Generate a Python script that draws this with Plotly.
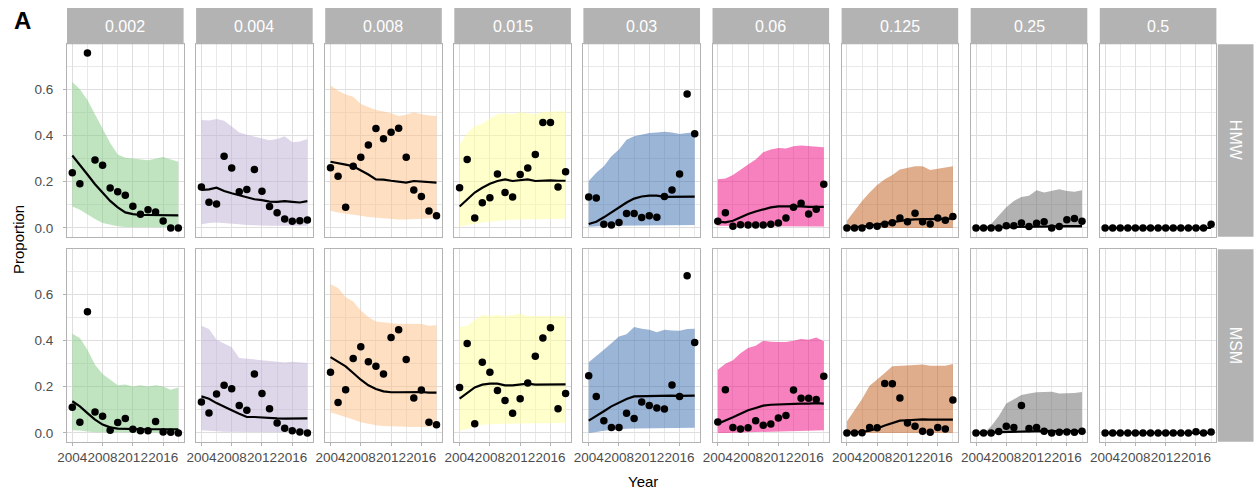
import plotly.graph_objects as go

W, H = 1256, 493

years = list(range(2004, 2019))
mic_levels = ["0.002", "0.004", "0.008", "0.015", "0.03", "0.06", "0.125", "0.25", "0.5"]
groups = ["HMW", "MSM"]
x_tick_labels = ["2004", "2008", "2012", "2016"]
y_tick_labels = ["0.0", "0.2", "0.4", "0.6"]

band_colors = [
    "rgba(127,201,127,0.5)", "rgba(190,174,212,0.5)", "rgba(253,192,134,0.5)",
    "rgba(255,255,153,0.5)", "rgba(56,108,176,0.5)", "rgba(240,2,127,0.5)",
    "rgba(191,91,23,0.5)", "rgba(102,102,102,0.5)", "rgba(102,102,102,0.5)",
]

Z = [0.0] * 15

# ---------------- HMW ----------------
hmw_obs = [
    [0.239, 0.191, 0.756, 0.294, 0.271, 0.173, 0.157, 0.141, 0.094, 0.059, 0.079, 0.069, 0.030, 0.0, 0.0],
    [0.177, 0.111, 0.103, 0.310, 0.259, 0.156, 0.166, 0.253, 0.159, 0.093, 0.066, 0.039, 0.029, 0.031, 0.034],
    [0.260, 0.223, 0.090, 0.267, 0.306, 0.359, 0.430, 0.386, 0.414, 0.431, 0.306, 0.164, 0.136, 0.073, 0.053],
    [0.174, 0.296, 0.043, 0.109, 0.131, 0.233, 0.153, 0.134, 0.231, 0.259, 0.317, 0.456, 0.456, 0.177, 0.243],
    [0.134, 0.129, 0.016, 0.013, 0.024, 0.063, 0.063, 0.045, 0.053, 0.046, 0.136, 0.164, 0.233, 0.579, 0.407],
    [0.029, 0.066, 0.007, 0.014, 0.013, 0.013, 0.013, 0.016, 0.021, 0.043, 0.089, 0.107, 0.060, 0.081, 0.189],
    [0.0, 0.0, 0.0, 0.009, 0.007, 0.016, 0.023, 0.043, 0.027, 0.064, 0.027, 0.017, 0.043, 0.033, 0.050],
    [0.0, 0.0, 0.0, 0.0, 0.010, 0.010, 0.021, 0.006, 0.020, 0.027, 0.0, 0.006, 0.036, 0.041, 0.029],
    [0.0, 0.0, 0.0, 0.0, 0.0, 0.0, 0.0, 0.0, 0.0, 0.0, 0.0, 0.0, 0.0, 0.0, 0.016],
]
hmw_fit = [
    [0.313, 0.274, 0.231, 0.189, 0.153, 0.117, 0.089, 0.067, 0.060, 0.056, 0.056, 0.055, 0.055, 0.054, 0.054],
    [0.164, 0.167, 0.174, 0.160, 0.150, 0.141, 0.131, 0.124, 0.120, 0.114, 0.113, 0.116, 0.113, 0.110, 0.116],
    [0.286, 0.281, 0.274, 0.267, 0.250, 0.231, 0.210, 0.209, 0.204, 0.200, 0.196, 0.203, 0.201, 0.199, 0.196],
    [0.093, 0.124, 0.153, 0.174, 0.191, 0.203, 0.210, 0.203, 0.206, 0.210, 0.203, 0.206, 0.206, 0.204, 0.204],
    [0.017, 0.027, 0.046, 0.067, 0.089, 0.110, 0.127, 0.136, 0.140, 0.140, 0.134, 0.135, 0.134, 0.134, 0.135],
    [0.027, 0.024, 0.031, 0.046, 0.060, 0.071, 0.081, 0.089, 0.093, 0.094, 0.094, 0.093, 0.091, 0.091, 0.091],
    [0.0, 0.002, 0.006, 0.010, 0.015, 0.020, 0.027, 0.032, 0.035, 0.037, 0.037, 0.037, 0.038, 0.038, 0.040],
    [0.0, 0.0, 0.001, 0.002, 0.003, 0.004, 0.005, 0.006, 0.006, 0.007, 0.007, 0.008, 0.008, 0.008, 0.008],
    Z,
]
hmw_lo = [
    [0.093, 0.079, 0.060, 0.039, 0.021, 0.013, 0.007, 0.004, 0.003, 0.003, 0.003, 0.003, 0.003, 0.003, 0.003],
    [0.016, 0.021, 0.024, 0.021, 0.018, 0.016, 0.013, 0.011, 0.010, 0.010, 0.010, 0.009, 0.009, 0.010, 0.010],
    [0.074, 0.067, 0.063, 0.057, 0.053, 0.047, 0.043, 0.040, 0.039, 0.037, 0.037, 0.039, 0.040, 0.041, 0.043],
    [0.006, 0.010, 0.017, 0.024, 0.027, 0.031, 0.034, 0.036, 0.037, 0.039, 0.039, 0.040, 0.040, 0.040, 0.040],
    [0.005, 0.006, 0.008, 0.010, 0.011, 0.012, 0.013, 0.013, 0.013, 0.013, 0.013, 0.013, 0.013, 0.013, 0.013],
    [0.009, 0.009, 0.007, 0.007, 0.006, 0.006, 0.006, 0.006, 0.006, 0.006, 0.006, 0.006, 0.006, 0.006, 0.006],
    Z, Z, Z,
]
hmw_hi = [
    [0.631, 0.599, 0.553, 0.489, 0.424, 0.367, 0.317, 0.303, 0.300, 0.296, 0.293, 0.299, 0.307, 0.296, 0.286],
    [0.467, 0.464, 0.471, 0.463, 0.439, 0.413, 0.403, 0.396, 0.386, 0.379, 0.384, 0.396, 0.370, 0.374, 0.384],
    [0.617, 0.593, 0.577, 0.567, 0.536, 0.524, 0.510, 0.503, 0.496, 0.484, 0.489, 0.500, 0.491, 0.486, 0.484],
    [0.360, 0.410, 0.441, 0.449, 0.474, 0.491, 0.496, 0.491, 0.500, 0.496, 0.491, 0.501, 0.501, 0.504, 0.504],
    [0.203, 0.239, 0.267, 0.310, 0.339, 0.381, 0.396, 0.404, 0.410, 0.413, 0.416, 0.413, 0.406, 0.410, 0.414],
    [0.210, 0.214, 0.229, 0.250, 0.274, 0.296, 0.327, 0.339, 0.346, 0.343, 0.353, 0.356, 0.353, 0.349, 0.349],
    [0.031, 0.074, 0.117, 0.153, 0.186, 0.210, 0.229, 0.253, 0.260, 0.267, 0.267, 0.250, 0.256, 0.260, 0.267],
    [0.0, 0.0, 0.017, 0.053, 0.089, 0.117, 0.134, 0.139, 0.163, 0.153, 0.160, 0.167, 0.160, 0.157, 0.163],
    Z,
]

# ---------------- MSM ----------------
msm_obs = [
    [0.111, 0.046, 0.524, 0.091, 0.072, 0.012, 0.045, 0.062, 0.016, 0.010, 0.010, 0.049, 0.004, 0.003, 0.0],
    [0.134, 0.086, 0.168, 0.206, 0.191, 0.119, 0.098, 0.255, 0.171, 0.105, 0.043, 0.020, 0.010, 0.004, 0.0],
    [0.262, 0.132, 0.187, 0.322, 0.373, 0.308, 0.288, 0.255, 0.413, 0.446, 0.317, 0.151, 0.186, 0.046, 0.036],
    [0.197, 0.387, 0.040, 0.306, 0.262, 0.183, 0.140, 0.085, 0.148, 0.216, 0.331, 0.410, 0.455, 0.105, 0.171],
    [0.247, 0.158, 0.053, 0.024, 0.024, 0.085, 0.062, 0.134, 0.119, 0.108, 0.104, 0.207, 0.158, 0.679, 0.391],
    [0.047, 0.187, 0.024, 0.017, 0.022, 0.053, 0.033, 0.039, 0.065, 0.075, 0.186, 0.150, 0.150, 0.145, 0.245],
    [0.0, 0.0, 0.001, 0.024, 0.022, 0.214, 0.213, 0.151, 0.043, 0.029, 0.007, 0.003, 0.024, 0.017, 0.142],
    [0.0, 0.0, 0.0, 0.006, 0.029, 0.024, 0.119, 0.019, 0.024, 0.007, 0.0, 0.003, 0.004, 0.003, 0.007],
    [0.0, 0.0, 0.0, 0.0, 0.0, 0.0, 0.0, 0.0, 0.0, 0.0, 0.0, 0.0, 0.005, 0.0, 0.004],
]
msm_fit = [
    [0.137, 0.115, 0.086, 0.058, 0.036, 0.024, 0.019, 0.017, 0.017, 0.016, 0.016, 0.016, 0.016, 0.016, 0.016],
    [0.158, 0.148, 0.129, 0.115, 0.098, 0.083, 0.069, 0.069, 0.066, 0.065, 0.063, 0.062, 0.063, 0.065, 0.063],
    [0.328, 0.309, 0.288, 0.259, 0.230, 0.206, 0.190, 0.180, 0.176, 0.176, 0.177, 0.178, 0.177, 0.174, 0.174],
    [0.148, 0.173, 0.197, 0.209, 0.213, 0.213, 0.206, 0.206, 0.209, 0.213, 0.209, 0.209, 0.210, 0.210, 0.210],
    [0.053, 0.072, 0.094, 0.115, 0.130, 0.147, 0.158, 0.159, 0.160, 0.160, 0.161, 0.161, 0.160, 0.161, 0.161],
    [0.040, 0.053, 0.068, 0.083, 0.098, 0.108, 0.118, 0.122, 0.124, 0.125, 0.127, 0.127, 0.127, 0.129, 0.127],
    [0.0, 0.001, 0.004, 0.010, 0.019, 0.032, 0.043, 0.053, 0.055, 0.058, 0.059, 0.058, 0.058, 0.058, 0.058],
    [0.0, 0.001, 0.003, 0.005, 0.006, 0.007, 0.008, 0.009, 0.010, 0.009, 0.008, 0.008, 0.008, 0.008, 0.008],
    Z,
]
msm_lo = [
    [0.012, 0.011, 0.006, 0.003, 0.001, 0.001, 0.001, 0.001, 0.001, 0.001, 0.001, 0.001, 0.001, 0.001, 0.001],
    [0.012, 0.011, 0.007, 0.005, 0.003, 0.003, 0.002, 0.002, 0.002, 0.002, 0.002, 0.002, 0.002, 0.002, 0.002],
    [0.089, 0.079, 0.069, 0.058, 0.046, 0.039, 0.033, 0.030, 0.029, 0.027, 0.027, 0.026, 0.026, 0.026, 0.027],
    [0.010, 0.017, 0.026, 0.035, 0.036, 0.039, 0.040, 0.042, 0.043, 0.043, 0.043, 0.043, 0.043, 0.043, 0.043],
    [0.0, 0.004, 0.010, 0.014, 0.016, 0.018, 0.019, 0.020, 0.021, 0.021, 0.022, 0.022, 0.022, 0.022, 0.022],
    [0.0, 0.0, 0.001, 0.002, 0.003, 0.003, 0.003, 0.003, 0.004, 0.005, 0.006, 0.008, 0.010, 0.011, 0.012],
    Z, Z, Z,
]
msm_hi = [
    [0.429, 0.410, 0.360, 0.295, 0.255, 0.230, 0.206, 0.209, 0.201, 0.206, 0.201, 0.206, 0.201, 0.187, 0.197],
    [0.463, 0.449, 0.403, 0.388, 0.370, 0.324, 0.321, 0.319, 0.314, 0.314, 0.309, 0.305, 0.308, 0.305, 0.302],
    [0.643, 0.626, 0.587, 0.568, 0.529, 0.501, 0.482, 0.478, 0.475, 0.471, 0.472, 0.472, 0.471, 0.463, 0.465],
    [0.458, 0.463, 0.489, 0.511, 0.506, 0.511, 0.506, 0.511, 0.514, 0.504, 0.506, 0.504, 0.506, 0.506, 0.506],
    [0.306, 0.331, 0.360, 0.388, 0.417, 0.427, 0.458, 0.450, 0.446, 0.435, 0.446, 0.443, 0.442, 0.449, 0.450],
    [0.273, 0.299, 0.314, 0.345, 0.367, 0.377, 0.399, 0.394, 0.393, 0.393, 0.399, 0.406, 0.403, 0.413, 0.396],
    [0.050, 0.096, 0.147, 0.204, 0.230, 0.259, 0.288, 0.291, 0.292, 0.294, 0.296, 0.291, 0.290, 0.291, 0.298],
    [0.0, 0.0, 0.029, 0.072, 0.127, 0.147, 0.164, 0.170, 0.176, 0.177, 0.178, 0.170, 0.171, 0.173, 0.177],
    Z,
]

data = {
    "HMW": (hmw_obs, hmw_fit, hmw_lo, hmw_hi),
    "MSM": (msm_obs, msm_fit, msm_lo, msm_hi),
}

# ---------------- layout geometry (pixels) ----------------
PANEL_LEFT0 = 67.0
PANEL_STEP = 129.1
PANEL_W = 116.6
ROW_TOP = [44.3, 249.3]
ROW_BOT = [236.7, 441.7]
STRIP_TOP = 8.0
STRIP_RIGHT_X0, STRIP_RIGHT_X1 = 1217.8, 1253.5

FONT = "Liberation Sans, Arial, Helvetica, sans-serif"
GRID = "#dedede"
GRID_MINOR = "#e9e9e9"
BORDER = "#b3b3b3"
TICKTXT = "#4d4d4d"

all_vals = [v for g in data.values() for arrs in g for panel in arrs for v in panel]
vmax = max(all_vals)
yrange = [-0.05 * vmax, vmax * 1.05]
xspan = years[-1] - years[0]
xrange = [years[0] - 0.05 * xspan, years[-1] + 0.05 * xspan]


def px_x(p):
    return p / W


def px_y(p):
    return 1 - p / H


fig = go.Figure()
layout = {}
shapes = []
annotations = []

for r, grp in enumerate(groups):
    obs, fit, lo, hi = data[grp]
    for c, mic in enumerate(mic_levels):
        n = r * len(mic_levels) + c + 1
        xa = "x" if n == 1 else f"x{n}"
        ya = "y" if n == 1 else f"y{n}"
        x0 = PANEL_LEFT0 + c * PANEL_STEP
        x1 = x0 + PANEL_W

        fig.add_trace(go.Scatter(
            x=years + years[::-1], y=hi[c] + lo[c][::-1],
            fill="toself", fillcolor=band_colors[c], line=dict(width=0),
            mode="lines", hoverinfo="skip", showlegend=False, xaxis=xa, yaxis=ya))
        fig.add_trace(go.Scatter(
            x=years, y=fit[c], mode="lines", line=dict(color="black", width=2.2),
            showlegend=False, xaxis=xa, yaxis=ya))
        fig.add_trace(go.Scatter(
            x=years, y=obs[c], mode="markers",
            marker=dict(color="black", size=7.5, line=dict(width=0)),
            showlegend=False, xaxis=xa, yaxis=ya, cliponaxis=False))

        bottom = r == len(groups) - 1
        left = c == 0
        layout["xaxis" if n == 1 else f"xaxis{n}"] = dict(
            domain=[px_x(x0), px_x(x1)], anchor=ya, range=xrange, automargin=False,
            tickmode="array", tickvals=[int(t) for t in x_tick_labels], ticktext=x_tick_labels,
            showticklabels=bottom, ticks="outside" if bottom else "", ticklen=3,
            tickcolor=BORDER, tickwidth=1, tickangle=0,
            tickfont=dict(family=FONT, size=13.5, color=TICKTXT),
            showgrid=True, gridcolor=GRID, gridwidth=1, zeroline=False,
            minor=dict(tickvals=[2006, 2010, 2014, 2018], showgrid=True,
                       gridcolor=GRID_MINOR, gridwidth=1, ticks=""),
            showline=True, mirror=True, linecolor=BORDER, linewidth=1.2,
            fixedrange=True,
        )
        layout["yaxis" if n == 1 else f"yaxis{n}"] = dict(
            domain=[px_y(ROW_BOT[r]), px_y(ROW_TOP[r])], anchor=xa, range=yrange, automargin=False,
            tickmode="array", tickvals=[float(t) for t in y_tick_labels], ticktext=y_tick_labels,
            showticklabels=left, ticks="outside" if left else "", ticklen=3,
            tickcolor=BORDER, tickwidth=1, ticklabelstandoff=7,
            tickfont=dict(family=FONT, size=13.5, color=TICKTXT),
            showgrid=True, gridcolor=GRID, gridwidth=1, zeroline=False,
            minor=dict(tickvals=[0.1, 0.3, 0.5, 0.7], showgrid=True,
                       gridcolor=GRID_MINOR, gridwidth=1, ticks=""),
            showline=True, mirror=True, linecolor=BORDER, linewidth=1.2,
            fixedrange=True,
        )

        if r == 0:
            shapes.append(dict(type="rect", xref="paper", yref="paper",
                               x0=px_x(x0), x1=px_x(x1), y0=px_y(ROW_TOP[0]), y1=px_y(STRIP_TOP),
                               fillcolor=BORDER, line=dict(width=0), layer="above"))
            annotations.append(dict(text=mic, xref="paper", yref="paper",
                                    x=px_x((x0 + x1) / 2), y=px_y((STRIP_TOP + ROW_TOP[0]) / 2),
                                    showarrow=False, xanchor="center", yanchor="middle",
                                    font=dict(family=FONT, size=16, color="white")))

    shapes.append(dict(type="rect", xref="paper", yref="paper",
                       x0=px_x(STRIP_RIGHT_X0), x1=px_x(STRIP_RIGHT_X1),
                       y0=px_y(ROW_BOT[r]), y1=px_y(ROW_TOP[r]),
                       fillcolor=BORDER, line=dict(width=0), layer="above"))
    annotations.append(dict(text=grp, xref="paper", yref="paper",
                            x=px_x((STRIP_RIGHT_X0 + STRIP_RIGHT_X1) / 2),
                            y=px_y((ROW_TOP[r] + ROW_BOT[r]) / 2),
                            textangle=90, showarrow=False, xanchor="center", yanchor="middle",
                            font=dict(family=FONT, size=16, color="white")))

annotations.append(dict(text="Year", xref="paper", yref="paper",
                        x=px_x(643), y=px_y(481), showarrow=False,
                        xanchor="center", yanchor="middle",
                        font=dict(family=FONT, size=15, color="black")))
annotations.append(dict(text="Proportion", xref="paper", yref="paper",
                        x=px_x(18), y=px_y(240), textangle=-90, showarrow=False,
                        xanchor="center", yanchor="middle",
                        font=dict(family=FONT, size=15, color="black")))
annotations.append(dict(text="<b>A</b>", xref="paper", yref="paper",
                        x=px_x(22), y=px_y(20), showarrow=False,
                        xanchor="center", yanchor="middle",
                        font=dict(family=FONT, size=24, color="black")))

fig.update_layout(
    width=W, height=H, margin=dict(l=0, r=0, t=0, b=0, autoexpand=False),
    paper_bgcolor="white", plot_bgcolor="white",
    showlegend=False, shapes=shapes, annotations=annotations,
    **layout,
)

fig.write_html("out.html", config={"displayModeBar": False})
